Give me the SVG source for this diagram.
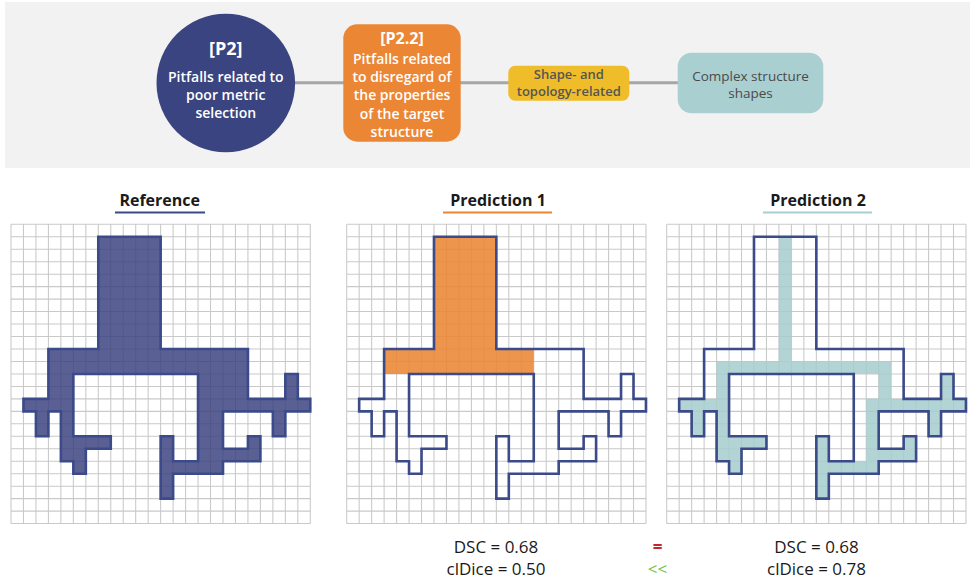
<svg xmlns="http://www.w3.org/2000/svg" xmlns:xlink="http://www.w3.org/1999/xlink" width="970" height="584" viewBox="0 0 970 584">
<style>
.t{font-family:"Open Sans","Noto Sans","Liberation Sans",sans-serif;text-anchor:middle}
.w{fill:#ffffff;font-weight:600;font-size:14px}
.wb{fill:#ffffff;font-weight:700}
.title{font-weight:700;font-size:16px;fill:#1a1a1a}
.metric{font-size:17px;fill:#1a1a1a}
.gl{fill:none;stroke:#c9c9c9;stroke-width:0.085}
.ol{fill:none;stroke:#3b4a88;stroke-width:0.21;stroke-linejoin:miter}
.conn{stroke:#a6a6a6;stroke-width:3}
</style>
<defs>
<g id="grid">
<rect x="0" y="0" width="24" height="24" fill="#ffffff"/>
<path class="gl" d="M0 0V24M1 0V24M2 0V24M3 0V24M4 0V24M5 0V24M6 0V24M7 0V24M8 0V24M9 0V24M10 0V24M11 0V24M12 0V24M13 0V24M14 0V24M15 0V24M16 0V24M17 0V24M18 0V24M19 0V24M20 0V24M21 0V24M22 0V24M23 0V24M24 0V24M0 0H24M0 1H24M0 2H24M0 3H24M0 4H24M0 5H24M0 6H24M0 7H24M0 8H24M0 9H24M0 10H24M0 11H24M0 12H24M0 13H24M0 14H24M0 15H24M0 16H24M0 17H24M0 18H24M0 19H24M0 20H24M0 21H24M0 22H24M0 23H24M0 24H24"/>
</g>
<path id="shape" d="M7 1H12V10H19V14H22V12H23V14H24V15H22V17H21V15H17V18H19V17H20V19H17V20H13V22H12V17H13V19H15V12H5V17H8V18H6V20H5V19H4V15H3V17H2V15H1V14H3V10H7Z"/>
</defs>

<rect x="5" y="2" width="965" height="166" fill="#f2f2f2"/>

<g id="connectors">
<line class="conn" x1="290" y1="82.7" x2="345" y2="82.7"/>
<line class="conn" x1="459" y1="82.7" x2="510" y2="82.7"/>
<line class="conn" x1="627" y1="82.7" x2="680" y2="82.7"/>
</g>

<g id="node-p2">
<circle cx="225.8" cy="83" r="69.3" fill="#3a4480"/>
<text class="t wb" x="225.8" y="55" font-size="18">[P2]</text>
<text class="t w" x="225.8" y="81.5">Pitfalls related to</text>
<text class="t w" x="225.8" y="99.5">poor metric</text>
<text class="t w" x="225.8" y="117.5">selection</text>
</g>

<g id="node-p22">
<rect x="343.3" y="24.3" width="117.4" height="117.4" rx="14" fill="#eb8634"/>
<text class="t wb" x="402" y="43.5" font-size="16">[P2.2]</text>
<text class="t w" x="402" y="63.7">Pitfalls related</text>
<text class="t w" x="402" y="82">to disregard of</text>
<text class="t w" x="402" y="100.2">the properties</text>
<text class="t w" x="402" y="118.5">of the target</text>
<text class="t w" x="402" y="136.7">structure</text>
</g>

<g id="node-shape">
<rect x="508.3" y="65.7" width="121" height="35" rx="7" fill="#efbd2a"/>
<text class="t" x="568.8" y="79" font-size="13" font-weight="600" fill="#555555">Shape- and</text>
<text class="t" x="568.8" y="95.5" font-size="13" font-weight="600" fill="#555555">topology-related</text>
</g>

<g id="node-complex">
<rect x="677.7" y="52.7" width="145.6" height="60.6" rx="14" fill="#aacfd0"/>
<text class="t" x="750.5" y="80.5" font-size="13.5" fill="#4a4a4a">Complex structure</text>
<text class="t" x="750.5" y="97.5" font-size="13.5" fill="#4a4a4a">shapes</text>
</g>

<g id="panel-reference">
<text class="t title" x="159.7" y="206">Reference</text>
<line x1="115" y1="212.5" x2="205" y2="212.5" stroke="#3b4a88" stroke-width="2"/>
<g transform="translate(11,224.3) scale(12.47)">
<use xlink:href="#grid" href="#grid"/>
<use xlink:href="#shape" href="#shape" fill="#3c4280" fill-opacity="0.84"/>
<use xlink:href="#shape" href="#shape" class="ol"/>
</g>
</g>

<g id="panel-prediction1">
<text class="t title" x="498" y="206">Prediction 1</text>
<line x1="443" y1="212.5" x2="552" y2="212.5" stroke="#eb8634" stroke-width="2"/>
<g transform="translate(346.7,224.3) scale(12.47)">
<use xlink:href="#grid" href="#grid"/>
<path d="M7 1H12V10H15V12H3V10H7Z" fill="#eb8634" fill-opacity="0.88"/>
<use xlink:href="#shape" href="#shape" class="ol"/>
</g>
</g>

<g id="panel-prediction2">
<text class="t title" x="818" y="206">Prediction 2</text>
<line x1="763" y1="212.5" x2="872" y2="212.5" stroke="#a9cfd0" stroke-width="2"/>
<g transform="translate(666.7,224.3) scale(12.47)">
<use xlink:href="#grid" href="#grid"/>
<g fill="#a6cdce" opacity="0.85">
<rect x="9" y="1" width="1" height="10"/>
<rect x="4" y="11" width="14" height="1"/>
<rect x="4" y="11" width="1" height="8"/>
<rect x="1" y="14" width="3" height="1"/>
<rect x="2" y="15" width="1" height="2"/>
<rect x="5" y="17" width="3" height="1"/>
<rect x="5" y="18" width="1" height="2"/>
<rect x="17" y="11" width="1" height="3"/>
<rect x="16" y="14" width="8" height="1"/>
<rect x="16" y="14" width="1" height="5"/>
<rect x="13" y="19" width="4" height="1"/>
<rect x="12" y="17" width="1" height="5"/>
<rect x="22" y="12" width="1" height="2"/>
<rect x="21" y="15" width="1" height="2"/>
<rect x="17" y="18" width="3" height="1"/>
<rect x="19" y="17" width="1" height="1"/>
</g>
<use xlink:href="#shape" href="#shape" class="ol"/>
</g>
</g>

<g id="metrics">
<text class="t metric" x="496" y="553">DSC = 0.68</text>
<text class="t metric" x="496" y="575">clDice = 0.50</text>
<text class="t metric" x="657.5" y="553" style="fill:#c1272d;font-weight:700">=</text>
<text class="t metric" x="657.5" y="575" style="fill:#7ac143">&lt;&lt;</text>
<text class="t metric" x="816.5" y="553">DSC = 0.68</text>
<text class="t metric" x="816.5" y="575">clDice = 0.78</text>
</g>
</svg>
